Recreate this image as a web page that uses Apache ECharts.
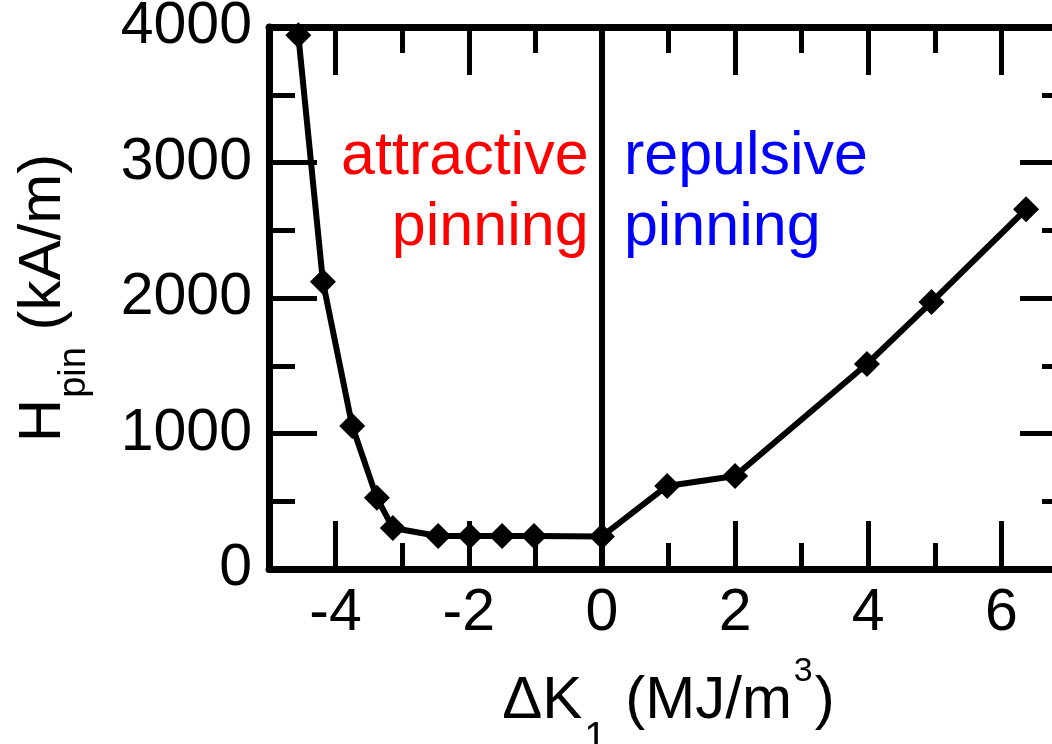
<!DOCTYPE html>
<html>
<head>
<meta charset="utf-8">
<script src="https://cdn.jsdelivr.net/npm/echarts@6/dist/echarts.min.js"></script>
<style>html,body{margin:0;padding:0;background:#fff}#c{width:1052px;height:744px}</style>
</head>
<body>
<div id="c"></div>
<script>
// Data
const deltaK1 = [-4.56, -4.19, -3.75, -3.38, -3.14, -2.46, -1.98, -1.50, -1.02, 0.0, 0.98, 2.0, 3.98, 4.95, 6.37];
const hPin = [3940, 2120, 1055, 525, 303, 244, 244, 244, 244, 240, 613, 686, 1513, 1970, 2655];
const xMajorTicks = [-4, -2, 0, 2, 4, 6];
const xMinorTicks = [-3, -1, 1, 3, 5];
const yMajorTicks = [0, 1000, 2000, 3000, 4000];
const yMinorTicks = [500, 1500, 2500, 3500];
const boundaryX = [0];
const leftNote = ['attractive', 'pinning'];
const rightNote = ['repulsive', 'pinning'];

const FONT = 'Liberation Sans, Arial, Helvetica, sans-serif';
const points = deltaK1.map((x, i) => [x, hPin[i]]);

function xAx(pos, major, labels, opts) {
  return Object.assign({
    type: 'value', position: pos, min: -5, max: 7,
    axisLine: { show: major, onZero: false, lineStyle: { color: '#000', width: 7 } },
    axisTick: { show: true, inside: true, length: major ? 48 : 26, customValues: major ? xMajorTicks : xMinorTicks, lineStyle: { color: '#000', width: 5 } },
    axisLabel: labels ? { show: true, customValues: xMajorTicks, formatter: v => String(v), fontSize: 59, fontFamily: FONT, color: '#000', margin: 15 } : { show: false },
    splitLine: { show: false }
  }, opts || {});
}
function yAx(pos, major, labels, opts) {
  return Object.assign({
    type: 'value', position: pos, min: 0, max: 4000,
    axisLine: { show: major, onZero: false, lineStyle: { color: '#000', width: 7 } },
    axisTick: { show: true, inside: true, length: major ? 48 : 26, customValues: major ? yMajorTicks : yMinorTicks, lineStyle: { color: '#000', width: 5 } },
    axisLabel: labels ? { show: true, customValues: yMajorTicks, formatter: v => String(v), fontSize: 59, fontFamily: FONT, color: '#000', margin: 17 } : { show: false },
    splitLine: { show: false }
  }, opts || {});
}

const chart = echarts.init(document.getElementById('c'), null, { renderer: 'canvas' });
chart.setOption({
  animation: false,
  backgroundColor: '#fff',
  grid: { left: 269, right: -16, top: 27, bottom: 175, containLabel: false, outerBoundsMode: 'none' },
  xAxis: [
    xAx('bottom', true, true, {
      name: '{m|ΔK}{s|1}{m| (MJ/m}{p|3}{m|)}',
      nameLocation: 'middle', nameGap: 86, nameMoveOverlap: false,
      nameTextStyle: {
        rich: {
          m: { fontSize: 60, lineHeight: 60, fontFamily: FONT, color: '#000', verticalAlign: 'top', padding: [16, 0, 0, 0] },
          s: { fontSize: 40, lineHeight: 40, fontFamily: FONT, color: '#000', verticalAlign: 'top', padding: [64, 2, 0, 2] },
          p: { fontSize: 34, lineHeight: 34, fontFamily: FONT, color: '#000', verticalAlign: 'top', padding: [0, 2, 0, 2] }
        }
      }
    }),
    xAx('bottom', false, false),
    xAx('top', true, false),
    xAx('top', false, false)
  ],
  yAxis: [
    yAx('left', true, true, {
      name: '{m|H}{s|pin}{m| (kA/m)}',
      nameLocation: 'middle', nameGap: 196, nameRotate: 90, nameMoveOverlap: false,
      nameTextStyle: {
        rich: {
          m: { fontSize: 60, lineHeight: 60, fontFamily: FONT, color: '#000', verticalAlign: 'top' },
          s: { fontSize: 38, lineHeight: 38, fontFamily: FONT, color: '#000', verticalAlign: 'top', padding: [43, 0, 0, 1] }
        }
      }
    }),
    yAx('left', false, false),
    yAx('right', true, false),
    yAx('right', false, false)
  ],
  series: [{
    type: 'line',
    xAxisIndex: 0, yAxisIndex: 0,
    data: points,
    symbol: 'diamond', symbolSize: 26,
    itemStyle: { color: '#000' },
    lineStyle: { color: '#000', width: 6 },
    z: 5,
    markLine: {
      silent: true, symbol: 'none', animation: false,
      label: { show: false },
      lineStyle: { color: '#000', width: 6, type: 'solid' },
      data: boundaryX.map(v => ({ xAxis: v }))
    },
    markPoint: {
      silent: true, symbol: 'circle', symbolSize: 0,
      data: [
        { coord: [-0.2, 2775], label: { show: true, position: 'inside', formatter: leftNote.join('\n'), align: 'right', verticalAlign: 'middle', color: '#ff0000', fontSize: 61, lineHeight: 71, fontFamily: FONT } },
        { coord: [0.33, 2775], label: { show: true, position: 'inside', formatter: rightNote.join('\n'), align: 'left', verticalAlign: 'middle', color: '#0000ff', fontSize: 61, lineHeight: 71, fontFamily: FONT } }
      ]
    }
  }]
});
</script>
</body>
</html>
